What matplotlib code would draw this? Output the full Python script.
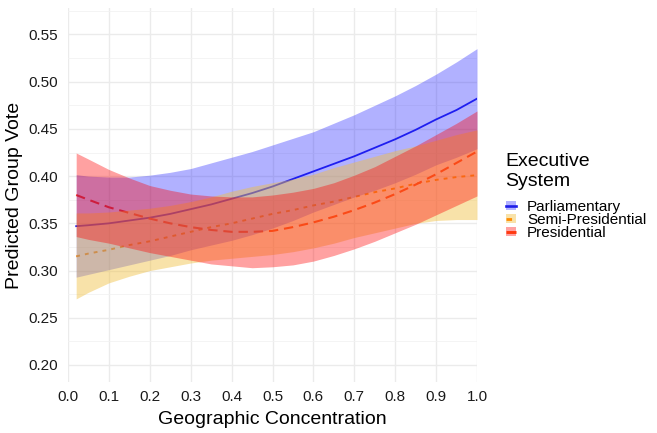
import matplotlib
matplotlib.use("Agg")
import matplotlib.pyplot as plt
from matplotlib.patches import Patch
from matplotlib.lines import Line2D

plt.rcParams['font.family'] = ['Liberation Sans', 'DejaVu Sans']

# geographic concentration values
conc = [0.02, 0.05, 0.10, 0.15, 0.20, 0.25, 0.30, 0.35, 0.40, 0.45, 0.50,
        0.55, 0.60, 0.65, 0.70, 0.75, 0.80, 0.85, 0.90, 0.95, 1.00]

# Parliamentary
parl_fit = [0.347, 0.348, 0.350, 0.353, 0.356, 0.360, 0.365, 0.370, 0.376, 0.382, 0.389,
            0.397, 0.405, 0.413, 0.421, 0.430, 0.439, 0.449, 0.460, 0.470, 0.482]
parl_hi = [0.4015, 0.400, 0.399, 0.399, 0.401, 0.404, 0.408, 0.414, 0.420, 0.426, 0.433,
           0.440, 0.447, 0.456, 0.465, 0.475, 0.485, 0.496, 0.508, 0.521, 0.535]
parl_lo = [0.293, 0.296, 0.301, 0.306, 0.311, 0.316, 0.322, 0.327, 0.332, 0.338, 0.345,
           0.353, 0.362, 0.370, 0.378, 0.385, 0.393, 0.402, 0.412, 0.420, 0.429]

# Semi-Presidential
semi_fit = [0.315, 0.318, 0.322, 0.327, 0.331, 0.336, 0.341, 0.346, 0.350, 0.355, 0.360,
            0.364, 0.369, 0.373, 0.378, 0.383, 0.387, 0.392, 0.396, 0.399, 0.401]
semi_hi = [0.361, 0.361, 0.362, 0.364, 0.366, 0.369, 0.373, 0.378, 0.384, 0.389, 0.393,
           0.397, 0.402, 0.409, 0.415, 0.421, 0.427, 0.432, 0.438, 0.444, 0.449]
semi_lo = [0.270, 0.277, 0.287, 0.294, 0.300, 0.304, 0.308, 0.311, 0.313, 0.315, 0.317,
           0.320, 0.324, 0.329, 0.335, 0.340, 0.345, 0.350, 0.353, 0.354, 0.354]

# Presidential
pres_fit = [0.380, 0.375, 0.367, 0.361, 0.355, 0.350, 0.346, 0.343, 0.341, 0.341, 0.342,
            0.346, 0.351, 0.357, 0.364, 0.372, 0.381, 0.391, 0.402, 0.414, 0.426]
pres_hi = [0.4245, 0.418, 0.407, 0.398, 0.390, 0.385, 0.381, 0.379, 0.378, 0.378, 0.380,
           0.383, 0.387, 0.393, 0.401, 0.410, 0.421, 0.432, 0.444, 0.456, 0.469]
pres_lo = [0.336, 0.333, 0.329, 0.324, 0.319, 0.315, 0.311, 0.307, 0.305, 0.303, 0.304,
           0.306, 0.310, 0.316, 0.323, 0.331, 0.340, 0.349, 0.359, 0.369, 0.379]

labels = ["Parliamentary", "Semi-Presidential", "Presidential"]
fills = ["#2020ff", "#f0c040", "#ff0000"]
fill_alpha = [0.35, 0.45, 0.37]
line_cols = ["#1e1ee8", "#ff8c00", "#ff3a10"]
dashes = [None, (2.0, 2.6), (4.5, 2.8)]
widths = [1.3, 1.4, 1.5]

series = [(parl_fit, parl_lo, parl_hi), (semi_fit, semi_lo, semi_hi), (pres_fit, pres_lo, pres_hi)]

fig = plt.figure(figsize=(6.57, 4.33), dpi=100)
ax = fig.add_axes([68 / 657, 1 - 382 / 433, 409 / 657, 374 / 433])

handles = []
for (fit, lo, hi), lab, fc, fa, lc, ds, lw in zip(series, labels, fills, fill_alpha, line_cols, dashes, widths):
    ln, = ax.plot(conc, fit, color=lc, lw=lw, zorder=2)
    if ds is not None:
        ln.set_dashes(ds)
    ax.fill_between(conc, lo, hi, color=fc, alpha=fa, lw=0, zorder=3)
    p = Patch(facecolor=fc, alpha=fa, edgecolor='none')
    l = Line2D([], [], color=lc, lw=lw + 0.6)
    if ds is not None:
        l.set_dashes(ds)
    handles.append((p, l))

ax.set_xlim(0, 1)
ax.set_ylim(0.182, 0.578)
ax.set_xticks([i / 10 for i in range(11)])
ax.set_xticklabels([f"{i / 10:.1f}" for i in range(11)])
yt = [0.20, 0.25, 0.30, 0.35, 0.40, 0.45, 0.50, 0.55]
ax.set_yticks(yt)
ax.set_yticklabels([f"{v:.2f}" for v in yt])
ax.set_yticks([0.225, 0.275, 0.325, 0.375, 0.425, 0.475, 0.525, 0.575], minor=True)

ax.grid(True, which='major', color='#ebebeb', lw=1.0, zorder=0)
ax.grid(True, which='minor', axis='y', color='#f2f2f2', lw=0.6, zorder=0)
ax.set_axisbelow(True)
for s in ax.spines.values():
    s.set_visible(False)
ax.tick_params(which='both', length=0, labelsize=11, labelcolor='#1a1a1a')
ax.tick_params(axis='x', pad=6)
ax.tick_params(axis='y', pad=7)

ax.set_xlabel("Geographic Concentration", fontsize=14, labelpad=5)
ax.set_ylabel("Predicted Group Vote", fontsize=14, labelpad=4)

leg = ax.legend(handles, labels, title="Executive\nSystem", loc='upper left',
                bbox_to_anchor=(1.055, 0.628), frameon=False, fontsize=11,
                title_fontsize=14, handlelength=0.65, handleheight=0.55,
                handletextpad=0.75, labelspacing=-0.05, borderaxespad=0)
leg._legend_box.align = "left"
leg._legend_box.sep = 7

fig.savefig("out.png", dpi=100)
